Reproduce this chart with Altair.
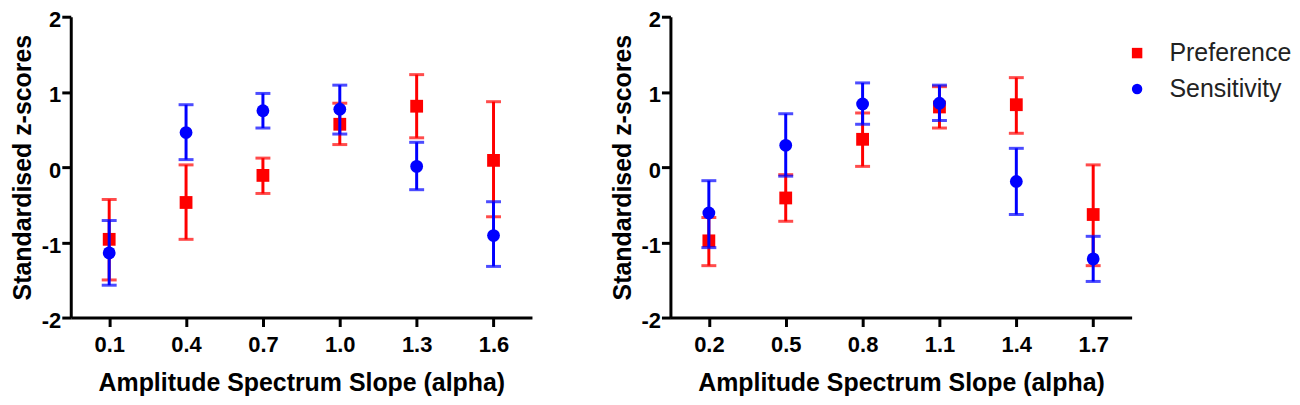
import altair as alt
import pandas as pd

series_names = ["Preference", "Sensitivity"]
series_colors = ["#FF0000", "#0000FF"]
series_shapes = ["square", "circle"]

left_x = ["0.1", "0.4", "0.7", "1.0", "1.3", "1.6"]
left_pref = [-0.96, -0.47, -0.11, 0.57, 0.81, 0.09]
left_pref_lo = [-1.50, -0.96, -0.35, 0.30, 0.39, -0.66]
left_pref_hi = [-0.43, 0.03, 0.12, 0.85, 1.23, 0.87]
left_sens = [-1.14, 0.46, 0.75, 0.77, 0.01, -0.91]
left_sens_lo = [-1.57, 0.10, 0.52, 0.44, -0.30, -1.32]
left_sens_hi = [-0.71, 0.83, 0.98, 1.09, 0.33, -0.46]

right_x = ["0.2", "0.5", "0.8", "1.1", "1.4", "1.7"]
right_pref = [-0.98, -0.41, 0.37, 0.80, 0.83, -0.63]
right_pref_lo = [-1.31, -0.72, 0.01, 0.52, 0.45, -1.31]
right_pref_hi = [-0.67, -0.10, 0.72, 1.07, 1.19, 0.03]
right_sens = [-0.61, 0.29, 0.84, 0.85, -0.19, -1.22]
right_sens_lo = [-1.07, -0.12, 0.57, 0.62, -0.63, -1.52]
right_sens_hi = [-0.18, 0.71, 1.12, 1.09, 0.25, -0.92]

y_ticks = [-2, -1, 0, 1, 2]

FONT = "Liberation Sans"


def make_df(xs, groups):
    rows = []
    for name, (vals, los, his) in zip(series_names, groups):
        for x, v, lo, hi in zip(xs, vals, los, his):
            rows.append({"alpha": x, "series": name, "value": v, "lo": lo, "hi": hi})
    return pd.DataFrame(rows)


def panel(xs, df):
    xenc = alt.X(
        "alpha:O",
        scale=alt.Scale(type="point", padding=0.5, domain=xs),
        axis=alt.Axis(title="Amplitude Spectrum Slope (alpha)", labelAngle=0),
    )
    yscale = alt.Scale(domain=[-2, 2], nice=False, zero=False)
    yaxis = alt.Axis(
        title="Standardised z-scores",
        values=y_ticks,
        labelExpr="toString(datum.value)",
    )
    layers = []
    for name, col, shp in zip(series_names, series_colors, series_shapes):
        d = df[df["series"] == name]
        base = alt.Chart(d)
        rule = base.mark_rule(strokeWidth=3, color=col).encode(
            x=xenc, y=alt.Y("lo:Q", scale=yscale, axis=yaxis), y2="hi:Q"
        )
        cap_lo = base.mark_tick(color=col, thickness=3, size=15, orient="horizontal").encode(
            x=xenc, y=alt.Y("lo:Q", scale=yscale, axis=yaxis)
        )
        cap_hi = base.mark_tick(color=col, thickness=3, size=15, orient="horizontal").encode(
            x=xenc, y=alt.Y("hi:Q", scale=yscale, axis=yaxis)
        )
        pts = base.mark_point(filled=True, size=165, opacity=1).encode(
            x=xenc,
            y=alt.Y("value:Q", scale=yscale, axis=yaxis),
            color=alt.Color(
                "series:N",
                scale=alt.Scale(domain=series_names, range=series_colors),
                legend=alt.Legend(
                    title=None,
                    orient="none",
                    legendX=1058,
                    legendY=24,
                    symbolSize=110,
                    symbolStrokeWidth=0,
                    labelFontSize=25,
                    labelFont=FONT,
                    labelColor="#222222",
                    labelOffset=20,
                    rowPadding=10,
                    padding=0,
                ),
            ),
            shape=alt.Shape(
                "series:N",
                scale=alt.Scale(domain=series_names, range=series_shapes),
                legend=alt.Legend(title=None),
            ),
        )
        layers += [rule, cap_lo, cap_hi, pts]
    return alt.layer(*layers).properties(width=463, height=302)


left_df = make_df(
    left_x,
    [(left_pref, left_pref_lo, left_pref_hi), (left_sens, left_sens_lo, left_sens_hi)],
)
right_df = make_df(
    right_x,
    [(right_pref, right_pref_lo, right_pref_hi), (right_sens, right_sens_lo, right_sens_hi)],
)

chart = (
    alt.hconcat(panel(left_x, left_df), panel(right_x, right_df), spacing=78)
    .resolve_scale(color="shared", shape="shared")
    .properties(padding={"left": 2, "top": 0, "right": 0, "bottom": 0})
    .configure_view(stroke=None)
    .configure_axis(
        grid=False,
        domainColor="black",
        domainWidth=3,
        tickColor="black",
        tickWidth=3,
        tickSize=9,
        labelFont=FONT,
        labelFontWeight="bold",
        labelFontSize=22,
        labelColor="black",
        titleFont=FONT,
        titleFontWeight="bold",
        titleFontSize=25,
        titleColor="black",
    )
    .configure_axisX(titlePadding=15, labelPadding=8)
    .configure_axisY(titlePadding=6, labelPadding=1, labelOffset=3)
)

chart.save("out.html", embed_options={"renderer": "svg", "actions": False})
